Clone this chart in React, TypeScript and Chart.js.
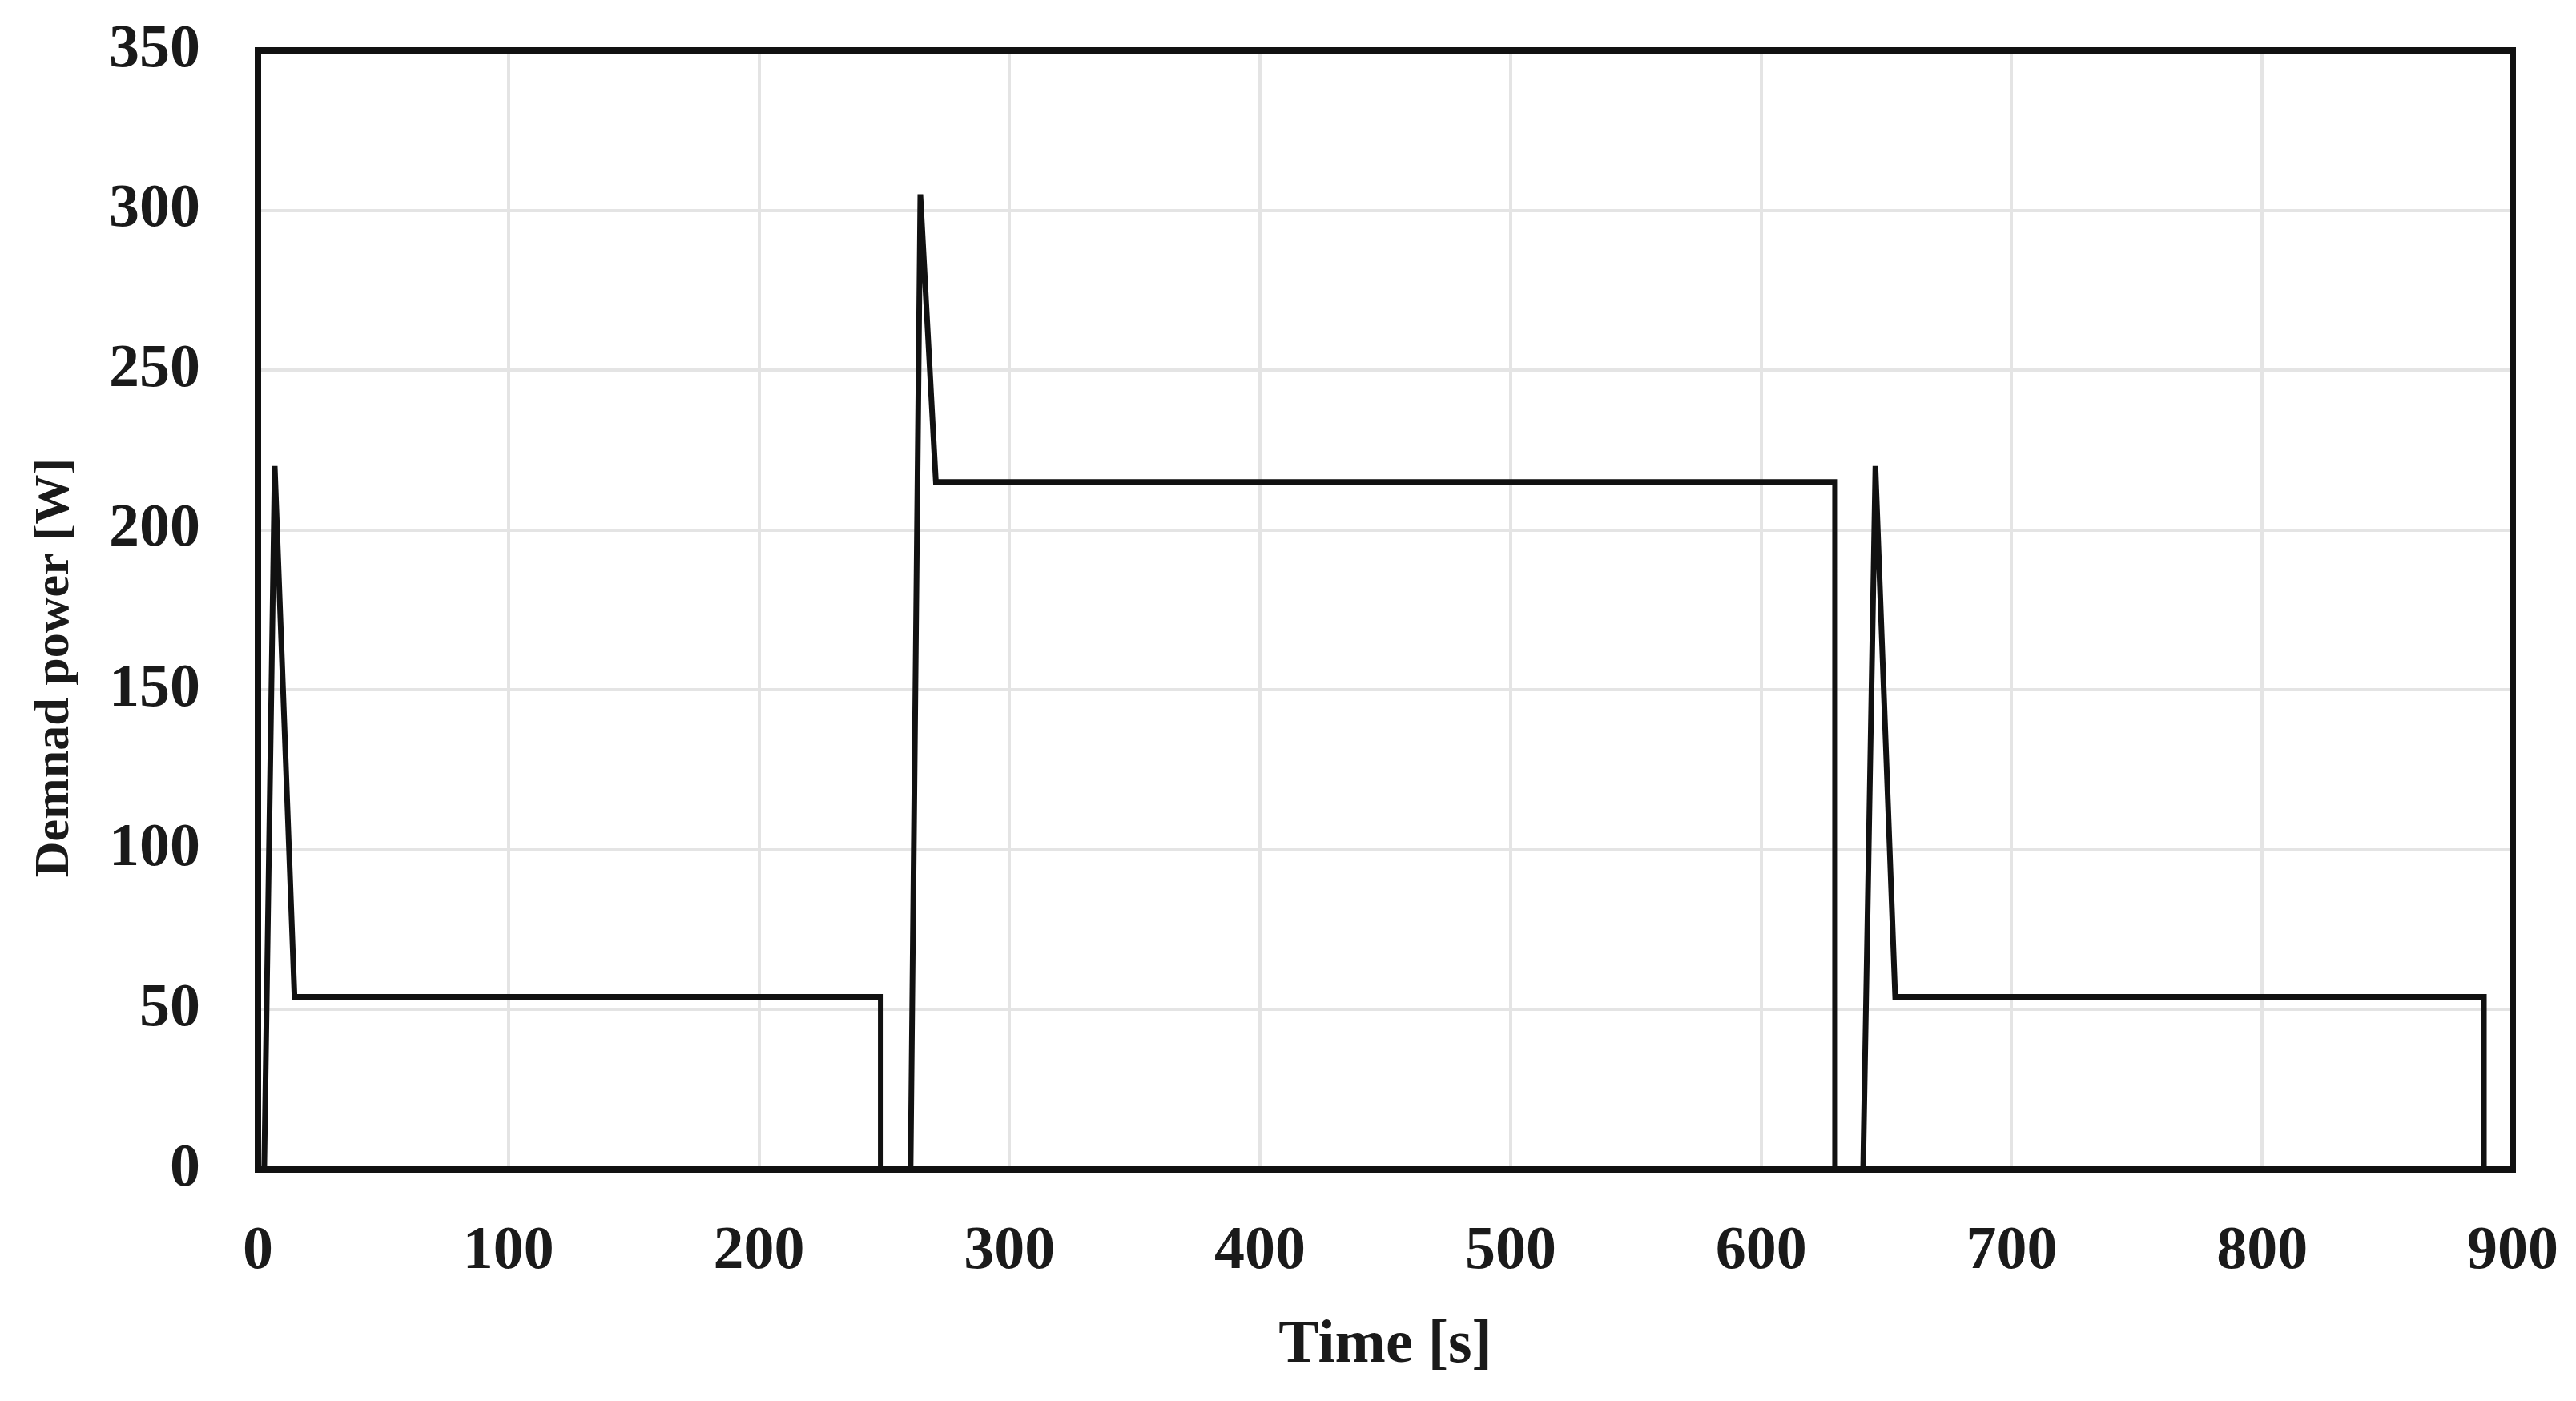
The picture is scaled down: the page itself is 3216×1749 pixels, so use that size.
import React, { useEffect, useRef } from "react";
import { Chart, registerables } from "chart.js";

Chart.register(...registerables);

// Demand power profile (time in seconds, power in watts)
const timeS = [0, 2.5, 6.7, 14.6, 248.6, 248.6, 260.5, 264.4, 270.6, 629.5, 629.5, 640.7, 645.6, 653.5, 888.5, 888.5, 890];
const powerW = [0, 0, 220, 54, 54, 0, 0, 305, 215, 215, 0, 0, 220, 54, 54, 0, 0];

const xTickValues = [0, 100, 200, 300, 400, 500, 600, 700, 800, 900];
const yTickValues = [0, 50, 100, 150, 200, 250, 300, 350];

const xTitle = "Time [s]";
const yTitle = "Demnad power [W]";

const FONT_FAMILY = "'Liberation Serif', 'DejaVu Serif', 'Times New Roman', serif";

const framePlugin = {
  id: "frameBox",
  afterLayout(chart: any) {
    // the reference's y-axis title sits a little below the axis centre
    const s = chart.scales.y;
    if (s && !s.__titleShifted) {
      const orig = s.drawTitle.bind(s);
      s.drawTitle = () => {
        s.ctx.save();
        s.ctx.translate(0, 72);
        orig();
        s.ctx.restore();
      };
      s.__titleShifted = true;
    }
  },
  afterDatasetsDraw(chart: any) {
    const { ctx, chartArea } = chart;
    const { left, top, right, bottom } = chartArea;
    ctx.save();
    ctx.strokeStyle = "#111111";
    ctx.lineWidth = 8;
    ctx.strokeRect(left, top, right - left, bottom - top);
    ctx.restore();
  },
};

export default function App() {
  const canvasRef = useRef<HTMLCanvasElement | null>(null);

  useEffect(() => {
    const canvas = canvasRef.current;
    if (!canvas) return;
    const points = timeS.map((t, i) => ({ x: t, y: powerW[i] }));
    const chart = new Chart(canvas, {
      type: "line",
      data: {
        datasets: [
          {
            label: yTitle,
            data: points,
            borderColor: "#111111",
            borderWidth: 7,
            pointRadius: 0,
            pointHoverRadius: 0,
            fill: false,
            tension: 0,
            borderJoinStyle: "miter",
          },
        ],
      },
      options: {
        animation: false,
        responsive: true,
        maintainAspectRatio: false,
        layout: { padding: { top: 63, right: 79, bottom: 0, left: 0 } },
        plugins: {
          legend: { display: false },
          tooltip: { enabled: false },
        },
        scales: {
          x: {
            type: "linear",
            min: 0,
            max: 900,
            afterBuildTicks: (scale: any) => {
              scale.ticks = xTickValues.map((v) => ({ value: v }));
            },
            afterFit: (scale: any) => {
              scale.height = 289;
              scale.paddingLeft = 0;
              scale.paddingRight = 0;
              scale.paddingTop = 0;
              scale.paddingBottom = 0;
            },
            ticks: {
              color: "#1a1a1a",
              padding: 58,
              maxRotation: 0,
              autoSkip: false,
              font: { family: FONT_FAMILY, size: 76, weight: "bold" },
            },
            grid: { color: "#e4e4e4", lineWidth: 4, drawTicks: false },
            border: { display: false },
            title: {
              display: true,
              text: xTitle,
              color: "#1a1a1a",
              font: { family: FONT_FAMILY, size: 76, weight: "bold" },
              padding: { top: 0, bottom: 23 },
            },
          },
          y: {
            type: "linear",
            min: 0,
            max: 350,
            afterBuildTicks: (scale: any) => {
              scale.ticks = yTickValues.map((v) => ({ value: v }));
            },
            afterFit: (scale: any) => {
              scale.width = 322;
              scale.paddingLeft = 0;
              scale.paddingRight = 0;
              scale.paddingTop = 0;
              scale.paddingBottom = 0;
            },
            ticks: {
              color: "#1a1a1a",
              padding: 72,
              autoSkip: false,
              font: { family: FONT_FAMILY, size: 76, weight: "bold" },
            },
            grid: { color: "#e4e4e4", lineWidth: 4, drawTicks: false },
            border: { display: false },
            title: {
              display: true,
              text: yTitle,
              color: "#1a1a1a",
              font: { family: FONT_FAMILY, size: 62, weight: "bold" },
              padding: { top: 32, bottom: 0 },
            },
          },
        },
      },
      plugins: [framePlugin],
    });
    return () => chart.destroy();
  }, []);

  return (
    <div
      style={{
        position: "fixed",
        left: 0,
        top: 0,
        width: "100vw",
        height: "100vh",
        background: "#ffffff",
      }}
    >
      <canvas ref={canvasRef} />
    </div>
  );
}
